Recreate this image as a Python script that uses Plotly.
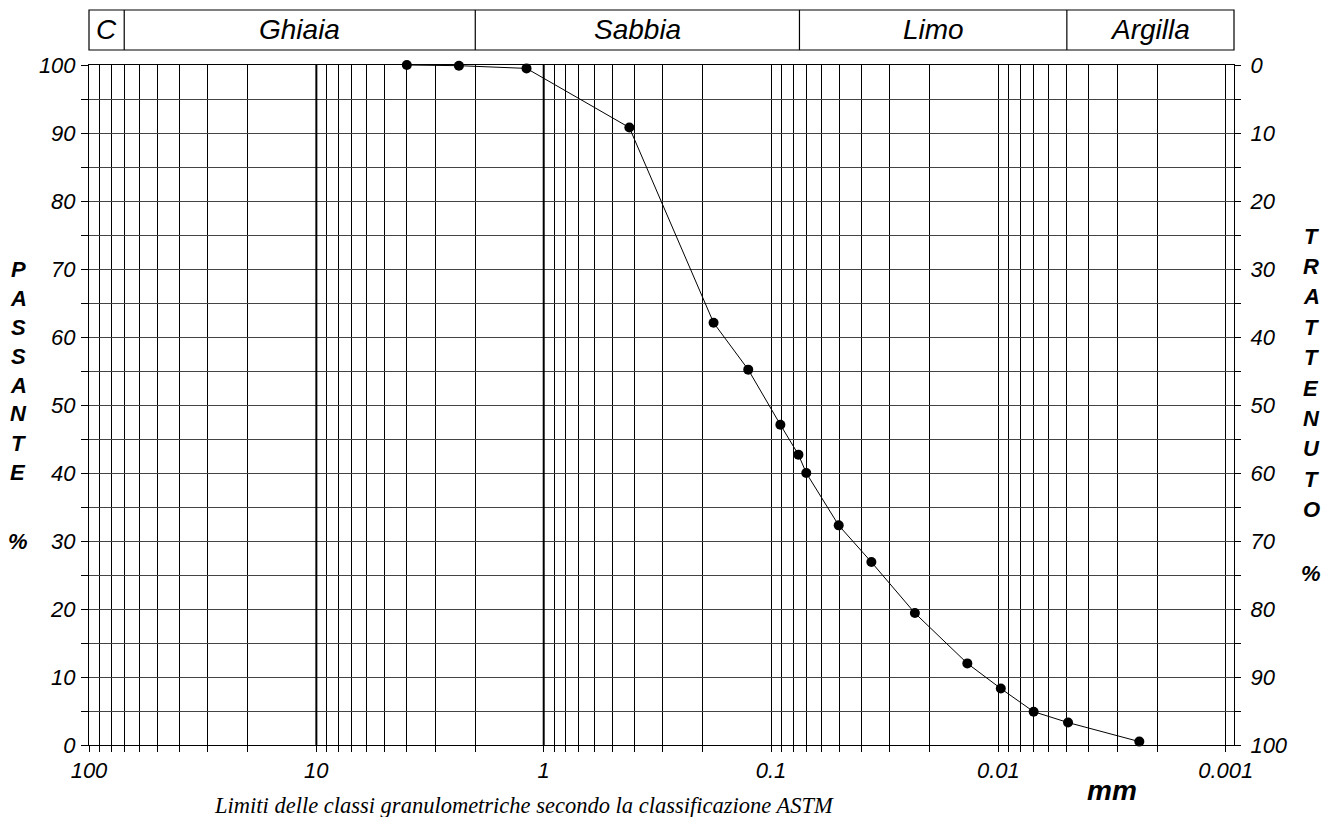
import math
import plotly.graph_objects as go

# ---------------- data ----------------
diametro_mm = [4.0, 2.36, 1.19, 0.42, 0.179, 0.126, 0.091, 0.0758, 0.070,
               0.0504, 0.0362, 0.0233, 0.0137, 0.00976, 0.0070, 0.00494, 0.0024]
passante = [100.0, 99.9, 99.5, 90.8, 62.1, 55.2, 47.1, 42.7, 40.0,
            32.3, 26.9, 19.4, 12.0, 8.3, 4.9, 3.3, 0.5]

classi = ["C", "Ghiaia", "Sabbia", "Limo", "Argilla"]
limiti_classi_mm = [70, 2, 0.075, 0.005]

x_tick_labels = ["100", "10", "1", "0.1", "0.01", "0.001"]
x_decades = [100, 10, 1, 0.1, 0.01, 0.001]
caption = "Limiti delle classi granulometriche secondo la classificazione ASTM"

# ---------------- geometry helpers ----------------
# page body has an 8px margin; plot area in page coords: x 89..1234, y 65..745
BODY = 8
W, H = 1318, 809
ML, MT = 81, 57
PW, PH = 1145, 680
MR = W - ML - PW
MB = H - MT - PH
PL, PT = ML + BODY, MT + BODY          # plot-area corner in page pixels
XMAX_LOG = 2.0
XMIN_LOG = math.log10(0.00092)


def px(x):
    return (x - PL) / PW


def py(y):
    return (PT + PH - y) / PH


def xpaper(v):
    return (XMAX_LOG - math.log10(v)) / (XMAX_LOG - XMIN_LOG)


sans = "Liberation Sans, Arial, sans-serif"
serif = "Liberation Serif, Times New Roman, serif"

# x ticks: all log minor positions
xtickvals = [m * 10 ** e for e in range(-3, 2) for m in range(1, 10)] + [100]
xticktext = []
for v in xtickvals:
    lbl = ""
    for d, t in zip(x_decades, x_tick_labels):
        if abs(v - d) / d < 1e-9:
            lbl = t
    xticktext.append(lbl)

ytickvals = list(range(0, 101, 5))
yticktext = [str(v) if v % 10 == 0 else "" for v in ytickvals]

fig = go.Figure()
fig.add_trace(go.Scatter(
    x=diametro_mm, y=passante, mode="lines+markers",
    line=dict(color="black", width=1),
    marker=dict(color="black", size=10),
    cliponaxis=False, showlegend=False, hoverinfo="skip"))
fig.add_trace(go.Scatter(
    x=diametro_mm, y=[100 - p for p in passante], yaxis="y2",
    mode="lines", opacity=0, line=dict(width=0),
    showlegend=False, hoverinfo="skip"))

tickfont = dict(family=sans, size=22, color="black", style="italic")

fig.update_layout(
    width=W, height=H,
    margin=dict(l=ML, r=MR, t=MT, b=MB, pad=0, autoexpand=False),
    paper_bgcolor="white", plot_bgcolor="white",
    xaxis=dict(type="log", range=[XMAX_LOG, XMIN_LOG],
               tickmode="array", tickvals=xtickvals, ticktext=xticktext,
               showgrid=True, gridcolor="black", gridwidth=1,
               ticks="outside", ticklen=6, tickcolor="black", tickwidth=1,
               showline=True, linecolor="black", linewidth=1, mirror=True,
               zeroline=False, tickfont=tickfont, ticklabelstandoff=0,
               automargin=False),
    yaxis=dict(range=[0, 100], tickmode="array", tickvals=ytickvals,
               ticktext=yticktext, showgrid=True, gridcolor="#444",
               gridwidth=1, ticks="outside", ticklen=7, tickcolor="black",
               showline=True, linecolor="black", linewidth=1, mirror=True,
               zeroline=False, tickfont=tickfont, ticklabelstandoff=1,
               automargin=False),
    yaxis2=dict(range=[100, 0], overlaying="y", side="right",
                tickmode="array", tickvals=ytickvals,
                ticktext=[str(v) if v % 10 == 0 else "" for v in ytickvals],
                showgrid=False, ticks="outside", ticklen=6, tickcolor="black",
                showline=False, zeroline=False, tickfont=tickfont,
                ticklabelstandoff=5, automargin=False),
)

shapes = []
# thicker decade lines at 10 and 1
for d in [10, 1]:
    shapes.append(dict(type="line", xref="paper", yref="paper",
                       x0=xpaper(d), x1=xpaper(d), y0=0, y1=1,
                       line=dict(color="black", width=2)))
# class band
yb0, yb1 = py(50), py(10)
shapes.append(dict(type="rect", xref="paper", yref="paper",
                   x0=0, x1=1, y0=yb0, y1=yb1,
                   line=dict(color="black", width=1.2)))
bounds = [0.0] + [xpaper(b) for b in limiti_classi_mm] + [1.0]
for b in bounds[1:-1]:
    shapes.append(dict(type="line", xref="paper", yref="paper",
                       x0=b, x1=b, y0=yb0, y1=yb1,
                       line=dict(color="black", width=1.2)))

annotations = []
for i, name in enumerate(classi):
    annotations.append(dict(
        text=name, xref="paper", yref="paper",
        x=(bounds[i] + bounds[i + 1]) / 2, y=py(30),
        xanchor="center", yanchor="middle", showarrow=False,
        font=dict(family=sans, size=28, color="black", style="italic")))

letter_font = dict(family=sans, size=22, color="black", style="italic",
                   weight="bold")
for i, ch in enumerate("PASSANTE"):
    annotations.append(dict(text=ch, xref="paper", yref="paper",
                            x=px(18), y=py(269 + i * 29), xanchor="center",
                            yanchor="middle", showarrow=False, font=letter_font))
annotations.append(dict(text="%", xref="paper", yref="paper",
                        x=px(18), y=py(541), xanchor="center",
                        yanchor="middle", showarrow=False, font=letter_font))
for i, ch in enumerate("TRATTENUTO"):
    annotations.append(dict(text=ch, xref="paper", yref="paper",
                            x=px(1311), y=py(236 + i * 30.4), xanchor="center",
                            yanchor="middle", showarrow=False, font=letter_font))
annotations.append(dict(text="%", xref="paper", yref="paper",
                        x=px(1311), y=py(573), xanchor="center",
                        yanchor="middle", showarrow=False, font=letter_font))

annotations.append(dict(text="mm", xref="paper", yref="paper",
                        x=px(1112), y=py(790), xanchor="center",
                        yanchor="middle", showarrow=False,
                        font=dict(family=sans, size=28, color="black",
                                  style="italic", weight="bold")))
annotations.append(dict(text=caption, xref="paper", yref="paper",
                        x=px(524), y=py(806), xanchor="center",
                        yanchor="middle", showarrow=False,
                        font=dict(family=serif, size=22.5, color="black",
                                  style="italic")))

fig.update_layout(shapes=shapes, annotations=annotations)
fig.write_html("out.html")
